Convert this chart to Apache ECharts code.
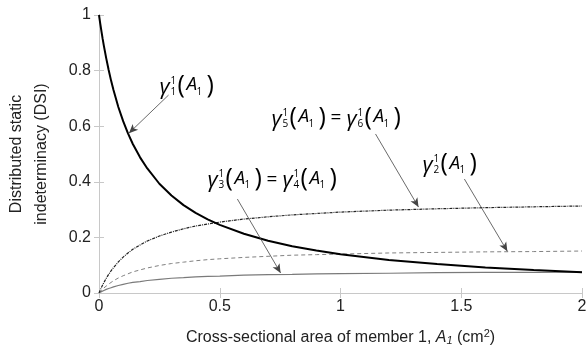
<!DOCTYPE html>
<html>
<head>
<meta charset="utf-8" />
<script type="text/javascript" src="https://cdn.jsdelivr.net/npm/echarts@6/dist/echarts.min.js"></script>
<title>DSI</title>
<style>
  html, body { margin: 0; padding: 0; background: #fff; }
  #main { width: 588px; height: 353px; }
</style>
</head>
<body>
<div id="main"></div>
<script type="text/javascript">
// values
var xs      = [0, 0.005, 0.01, 0.015, 0.02, 0.03, 0.04, 0.05, 0.06, 0.08, 0.1, 0.12, 0.14, 0.17, 0.2, 0.25, 0.3, 0.35, 0.4, 0.45, 0.5, 0.6, 0.7, 0.8, 0.9, 1.0, 1.2, 1.4, 1.6, 1.8, 2.0];
var gamma1  = [1, 0.970, 0.942, 0.915, 0.890, 0.844, 0.802, 0.764, 0.730, 0.669, 0.618, 0.574, 0.536, 0.488, 0.448, 0.393, 0.351, 0.316, 0.288, 0.265, 0.245, 0.213, 0.188, 0.168, 0.153, 0.139, 0.119, 0.104, 0.092, 0.083, 0.075];
var gamma56 = [0, 0.010, 0.020, 0.029, 0.037, 0.053, 0.067, 0.080, 0.091, 0.112, 0.129, 0.144, 0.157, 0.173, 0.187, 0.205, 0.219, 0.231, 0.241, 0.248, 0.255, 0.266, 0.274, 0.281, 0.286, 0.291, 0.298, 0.303, 0.307, 0.310, 0.313];
var gamma2  = [0, 0.005, 0.009, 0.014, 0.018, 0.025, 0.032, 0.038, 0.044, 0.054, 0.062, 0.069, 0.076, 0.083, 0.090, 0.099, 0.106, 0.111, 0.116, 0.120, 0.123, 0.128, 0.132, 0.136, 0.138, 0.140, 0.144, 0.146, 0.148, 0.149, 0.151];
var gamma34 = [0, 0.002, 0.005, 0.007, 0.009, 0.013, 0.016, 0.019, 0.022, 0.027, 0.031, 0.035, 0.038, 0.041, 0.045, 0.049, 0.053, 0.055, 0.058, 0.060, 0.061, 0.064, 0.066, 0.067, 0.069, 0.070, 0.071, 0.073, 0.074, 0.074, 0.075];
var xTicks = [0, 0.5, 1, 1.5, 2];
var yTicks = [0, 0.2, 0.4, 0.6, 0.8, 1];

function pairs(ys) {
  var out = [];
  for (var i = 0; i < xs.length; i++) out.push([xs[i], ys[i]]);
  return out;
}

var font = 'Liberation Sans, Arial, sans-serif';
var myChart = echarts.init(document.getElementById('main'), null, {renderer: 'canvas'});

var axisLineStyle = {lineStyle: {color: '#c8c8c8', width: 1}};
var tickStyle = {show: true, inside: true, length: 5, lineStyle: {color: '#c8c8c8'}};

// arrows (data coords): [from, to]
var arrows = [
  [[0.288, 0.712], [0.124, 0.575]],
  [[0.573, 0.338], [0.752, 0.072]],
  [[1.145, 0.572], [1.323, 0.309]],
  [[1.513, 0.410], [1.691, 0.150]]
];

option = {
  animation: false,
  grid: {left: 99, right: 6, top: 15, bottom: 60, show: false, outerBoundsMode: 'none', containLabel: false},
  xAxis: [{
    type: 'value', min: 0, max: 2, interval: 0.5,
    axisLine: axisLineStyle, axisTick: tickStyle, splitLine: {show: false},
    axisLabel: {color: '#222', fontSize: 16, fontFamily: font, margin: 6,
      formatter: function (v) { return xTicks.indexOf(v) >= 0 ? String(v) : ''; }},
    name: 'Cross-sectional area of member 1, {i|A}{s|1} (cm{p|2})',
    nameLocation: 'middle', nameGap: 35,
    nameTextStyle: {color: '#222', fontSize: 16, fontFamily: font,
      rich: {
        i: {fontSize: 16, fontStyle: 'italic', fontFamily: font, color: '#222'},
        s: {fontSize: 11, fontStyle: 'italic', fontFamily: font, color: '#222', padding: [7, 0, 0, 0]},
        p: {fontSize: 11, fontFamily: font, color: '#222', padding: [0, 0, 8, 0]}
      }}
  }, {
    type: 'value', position: 'top', min: 0, max: 2, interval: 0.5,
    axisLine: axisLineStyle, axisTick: tickStyle, axisLabel: {show: false}, splitLine: {show: false}
  }],
  yAxis: [{
    type: 'value', min: 0, max: 1, interval: 0.2,
    axisLine: axisLineStyle, axisTick: tickStyle, splitLine: {show: false},
    axisLabel: {color: '#222', fontSize: 16, fontFamily: font, margin: 8,
      formatter: function (v) { return String(Math.round(v * 10) / 10); }},
    name: 'Distributed static\nindeterminacy (DSI)',
    nameLocation: 'middle', nameGap: 45, nameRotate: 90,
    nameTextStyle: {color: '#222', fontSize: 16, lineHeight: 25, fontFamily: font}
  }, {
    type: 'value', position: 'right', min: 0, max: 1, interval: 0.2,
    axisLine: axisLineStyle, axisTick: tickStyle, axisLabel: {show: false}, splitLine: {show: false}
  }],
  series: [
    {
      name: 'gamma34', type: 'line', data: pairs(gamma34), showSymbol: false,
      lineStyle: {color: '#7a7a7a', width: 1.2}
    },
    {
      name: 'gamma2', type: 'line', data: pairs(gamma2), showSymbol: false,
      lineStyle: {color: '#808080', width: 1, type: [4, 3]}
    },
    {
      name: 'gamma56', type: 'line', data: pairs(gamma56), showSymbol: false,
      lineStyle: {color: '#222', width: 1.2, type: [3, 1, 1, 1]}
    },
    {
      name: 'gamma1', type: 'line', data: pairs(gamma1), showSymbol: false,
      lineStyle: {color: '#000', width: 2},
      markLine: {
        silent: true, animation: false,
        symbol: ['none', 'arrow'], symbolSize: [6, 9],
        label: {show: false},
        lineStyle: {color: '#444', width: 0.8, type: 'solid'},
        emphasis: {disabled: true},
        data: arrows.map(function (a) { return [{coord: a[0]}, {coord: a[1]}]; })
      }
    }
  ]
};
myChart.setOption(option);

// gamma labels, anchored at data coords (left edge of first gamma, vertical centre)
var lf = 'Open Sans, DejaVu Sans, sans-serif';
function term(ox, idx) {
  var parts = [
    {t: '\u03b3', dx: 0, dy: 1, size: 22, style: 'italic'},
    {t: '1', dx: 11, dy: -6, size: 10},
    {t: idx, dx: 11, dy: 5, size: 10},
    {t: '(', dx: 18, dy: -1, size: 25},
    {t: 'A', dx: 27, dy: -2, size: 19, style: 'italic'},
    {t: '1', dx: 37, dy: 5, size: 10},
    {t: ')', dx: 47, dy: -1, size: 25}
  ];
  return parts.map(function (p) {
    return {
      type: 'text', x: ox + p.dx, y: p.dy,
      style: {text: p.t, fontSize: p.size, fontStyle: p.style || 'normal', fontWeight: 'normal',
        fontFamily: lf, fill: '#000', verticalAlign: 'middle', align: 'left'}
    };
  });
}
function label(at, a, b) {
  var kids = term(0, a);
  if (b) {
    kids.push({type: 'text', x: 59, y: -1,
      style: {text: '=', fontSize: 19, fontFamily: lf, fill: '#000', verticalAlign: 'middle'}});
    kids = kids.concat(term(75, b));
  }
  var p = myChart.convertToPixel({gridIndex: 0}, at);
  return {type: 'group', x: p[0], y: p[1], silent: true, children: kids};
}
myChart.setOption({
  graphic: [
    label([0.250, 0.742], '1'),
    label([0.449, 0.406], '3', '4'),
    label([0.714, 0.626], '5', '6'),
    label([1.340, 0.460], '2')
  ]
});
</script>
</body>
</html>
